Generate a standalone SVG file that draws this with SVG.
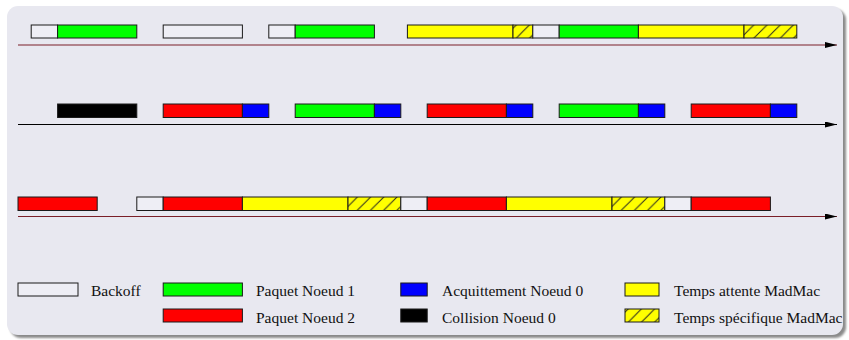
<svg xmlns="http://www.w3.org/2000/svg" width="849" height="340" viewBox="0 0 849 340">
  <style>
    .bar { stroke: #1a1a1a; stroke-width: 1; }
    .bo { fill: #eeeef5; }
    .p1 { fill: #00ff00; }
    .p2 { fill: #ff0000; }
    .ack { fill: #0000ff; }
    .col { fill: #000000; }
    .wait { fill: #ffff00; }
    .spec { fill: url(#hatch); }
    .lbl { font-family: "Liberation Serif", "Times New Roman", serif; font-size: 15.5px; fill: #111; }
    .axis-r { stroke: #7a1f28; stroke-width: 1.2; fill: none; }
    .axis-k { stroke: #000; stroke-width: 1.2; fill: none; }
  </style>
  <defs>
    <pattern id="hatch" patternUnits="userSpaceOnUse" width="13.2" height="13.2" x="0" y="0">
      <rect width="13.2" height="13.2" fill="#ffff00"/>
      <path d="M-1,14.2 L14.2,-1 M-3,3 L3,-3 M10.2,16.2 L16.2,10.2" stroke="#222" stroke-width="1"/>
    </pattern>
    <marker id="arrow" viewBox="0 0 12 6" refX="12" refY="3" markerWidth="12" markerHeight="6" markerUnits="userSpaceOnUse" orient="auto">
      <path d="M0,0 L12,3 L0,6 z" fill="#000"/>
    </marker>
    <filter id="shadow" x="-5%" y="-5%" width="110%" height="115%">
      <feGaussianBlur stdDeviation="1.2"/>
    </filter>
  </defs>

  <!-- panel -->
  <rect x="10" y="9" width="836" height="329" rx="11" fill="#8a8a8a" filter="url(#shadow)"/>
  <rect x="7" y="6" width="836" height="329" rx="11" fill="#e8e8f0"/>

  <!-- time axes -->
  <g id="connectors">
    <line class="axis-r" x1="18" y1="45" x2="837" y2="45" marker-end="url(#arrow)"/>
    <line class="axis-k" x1="18" y1="124.5" x2="837" y2="124.5" marker-end="url(#arrow)"/>
    <line class="axis-r" x1="18" y1="216.5" x2="837" y2="216.5" stroke-width="1.8" marker-end="url(#arrow)"/>
  </g>

  <!-- node 1 timeline -->
  <g id="timeline-node1">
    <rect class="bar bo" x="31.2" y="25" width="26.4" height="13"/>
    <rect class="bar p1" x="57.6" y="25" width="79.2" height="13"/>
    <rect class="bar bo" x="163.2" y="25" width="79.2" height="13"/>
    <rect class="bar bo" x="268.8" y="25" width="26.4" height="13"/>
    <rect class="bar p1" x="295.2" y="25" width="79.2" height="13"/>
    <rect class="bar wait" x="407.4" y="25" width="105.6" height="13"/>
    <rect class="bar spec" x="513" y="25" width="19.8" height="13"/>
    <rect class="bar bo" x="532.8" y="25" width="26.4" height="13"/>
    <rect class="bar p1" x="559.2" y="25" width="79.2" height="13"/>
    <rect class="bar wait" x="638.4" y="25" width="105.6" height="13"/>
    <rect class="bar spec" x="744" y="25" width="52.8" height="13"/>
  </g>

  <!-- node 0 timeline -->
  <g id="timeline-node0">
    <rect class="bar col" x="57.6" y="104" width="79.2" height="13.5"/>
    <rect class="bar p2" x="163.2" y="104" width="79.2" height="13.5"/>
    <rect class="bar ack" x="242.4" y="104" width="26.4" height="13.5"/>
    <rect class="bar p1" x="295.2" y="104" width="79.2" height="13.5"/>
    <rect class="bar ack" x="374.4" y="104" width="26.4" height="13.5"/>
    <rect class="bar p2" x="427.2" y="104" width="79.2" height="13.5"/>
    <rect class="bar ack" x="506.4" y="104" width="26.4" height="13.5"/>
    <rect class="bar p1" x="559.2" y="104" width="79.2" height="13.5"/>
    <rect class="bar ack" x="638.4" y="104" width="26.4" height="13.5"/>
    <rect class="bar p2" x="691.2" y="104" width="79.2" height="13.5"/>
    <rect class="bar ack" x="770.4" y="104" width="26.4" height="13.5"/>
  </g>

  <!-- node 2 timeline -->
  <g id="timeline-node2">
    <rect class="bar p2" x="18" y="197" width="79.2" height="13.5"/>
    <rect class="bar bo" x="136.8" y="197" width="26.4" height="13.5"/>
    <rect class="bar p2" x="163.2" y="197" width="79.2" height="13.5"/>
    <rect class="bar wait" x="242.4" y="197" width="105.6" height="13.5"/>
    <rect class="bar spec" x="348" y="197" width="52.8" height="13.5"/>
    <rect class="bar bo" x="400.8" y="197" width="26.4" height="13.5"/>
    <rect class="bar p2" x="427.2" y="197" width="79.2" height="13.5"/>
    <rect class="bar wait" x="506.4" y="197" width="105.6" height="13.5"/>
    <rect class="bar spec" x="612" y="197" width="52.8" height="13.5"/>
    <rect class="bar bo" x="664.8" y="197" width="26.4" height="13.5"/>
    <rect class="bar p2" x="691.2" y="197" width="79.2" height="13.5"/>
  </g>

  <!-- legend -->
  <g id="legend-backoff">
    <rect class="bar bo" x="18" y="283" width="60" height="13"/>
    <text class="lbl" x="91" y="296">Backoff</text>
  </g>
  <g id="legend-paquet1">
    <rect class="bar p1" x="163.2" y="283" width="79.2" height="13"/>
    <text class="lbl" x="256" y="296">Paquet Noeud 1</text>
  </g>
  <g id="legend-paquet2">
    <rect class="bar p2" x="163.2" y="309" width="79.2" height="13"/>
    <text class="lbl" x="256" y="322.5">Paquet Noeud 2</text>
  </g>
  <g id="legend-ack">
    <rect class="bar ack" x="400.8" y="283" width="26.4" height="13"/>
    <text class="lbl" x="442" y="296">Acquittement Noeud 0</text>
  </g>
  <g id="legend-collision">
    <rect class="bar col" x="400.8" y="309" width="26.4" height="13"/>
    <text class="lbl" x="442" y="322.5">Collision Noeud 0</text>
  </g>
  <g id="legend-attente">
    <rect class="bar wait" x="625" y="283" width="34" height="13"/>
    <text class="lbl" x="674" y="296">Temps attente MadMac</text>
  </g>
  <g id="legend-specifique">
    <rect class="bar spec" x="625" y="309" width="34" height="13"/>
    <text class="lbl" x="674" y="322.5">Temps spécifique MadMac</text>
  </g>
</svg>
